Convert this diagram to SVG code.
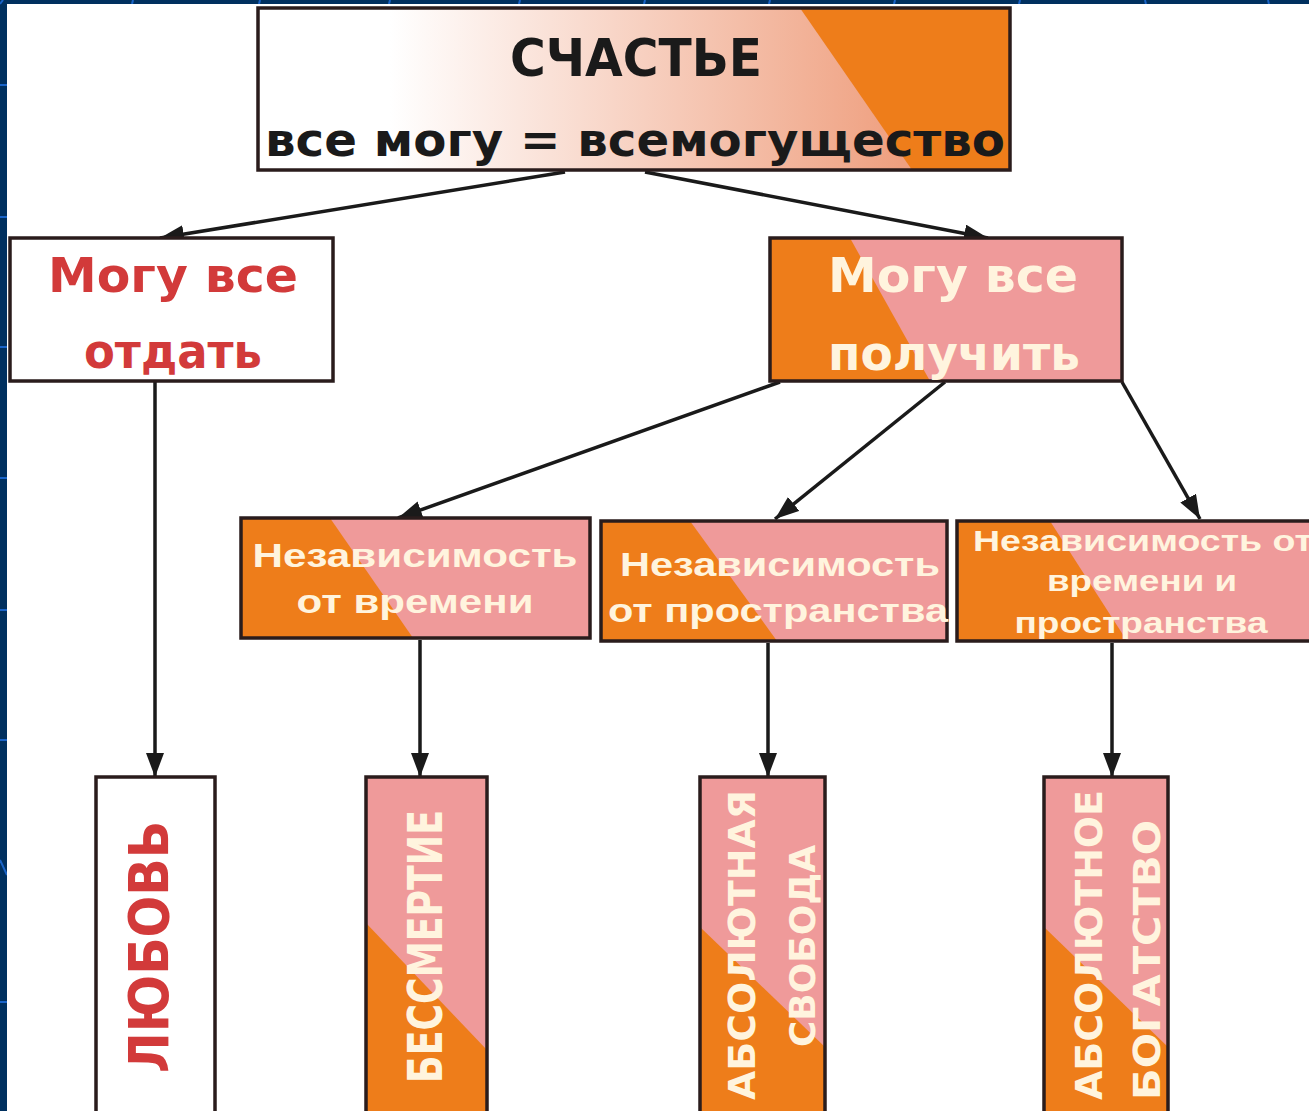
<svg xmlns="http://www.w3.org/2000/svg" width="1309" height="1111" viewBox="0 0 1309 1111">
<defs>
<style>
.box{stroke:#2a1c1c;stroke-width:3.5}
.or{fill:#ee7d1a}
.pk{fill:#ef9a9a}
.conn{stroke:#1a1a1a;stroke-width:3.5;fill:none}
.comic{font-family:"DejaVu Sans","Noto Sans",sans-serif;font-weight:bold}
.ar{font-family:"Liberation Sans",Arial,sans-serif;font-weight:bold;fill:#fff4de}
.vert{font-family:"DejaVu Sans","Liberation Sans",sans-serif;font-weight:bold}
.grid{stroke:#1a64c8;stroke-width:2}
</style>
<linearGradient id="topg" gradientUnits="userSpaceOnUse" x1="390" y1="0" x2="900" y2="0">
<stop offset="0" stop-color="#ffffff"/>
<stop offset="1" stop-color="#efa080"/>
</linearGradient>
<marker id="ah" viewBox="0 0 24 18" refX="24" refY="9" markerWidth="24" markerHeight="18" markerUnits="userSpaceOnUse" orient="auto">
<path d="M0,0 L24,9 L0,18 Z" fill="#1a1a1a"/>
</marker>
</defs>
<rect x="0" y="0" width="1309" height="1111" fill="#00305f"/>
<g class="grid">
<line x1="3" y1="0" x2="0" y2="4"/><line x1="133" y1="0" x2="132" y2="4"/><line x1="260" y1="0" x2="259" y2="4"/><line x1="390" y1="0" x2="389" y2="4"/><line x1="520" y1="0" x2="519" y2="4"/><line x1="645" y1="0" x2="644" y2="4"/><line x1="770" y1="0" x2="769" y2="4"/><line x1="895" y1="0" x2="894" y2="4"/><line x1="1020" y1="0" x2="1019" y2="4"/><line x1="1145" y1="0" x2="1146" y2="4"/><line x1="1268" y1="0" x2="1269" y2="4"/>
<line x1="0" y1="85" x2="7" y2="85"/><line x1="0" y1="217" x2="7" y2="217"/><line x1="0" y1="347" x2="7" y2="347"/><line x1="0" y1="478" x2="7" y2="478"/><line x1="0" y1="610" x2="7" y2="610"/><line x1="0" y1="740" x2="7" y2="740"/><line x1="0" y1="860" x2="7" y2="875"/><line x1="0" y1="1002" x2="7" y2="1002"/>
</g>
<rect x="7" y="4" width="1302" height="1107" fill="#ffffff"/>

<g id="connectors">
<line class="conn" x1="565" y1="172" x2="160" y2="238" marker-end="url(#ah)"/>
<line class="conn" x1="645" y1="172" x2="988" y2="238" marker-end="url(#ah)"/>
<line class="conn" x1="780" y1="382" x2="398" y2="518" marker-end="url(#ah)"/>
<line class="conn" x1="945" y1="382" x2="775" y2="519" marker-end="url(#ah)"/>
<line class="conn" x1="1122" y1="382" x2="1200" y2="519" marker-end="url(#ah)"/>
<line class="conn" x1="155" y1="381" x2="155" y2="777" marker-end="url(#ah)"/>
<line class="conn" x1="420" y1="640" x2="420" y2="777" marker-end="url(#ah)"/>
<line class="conn" x1="768" y1="643" x2="768" y2="777" marker-end="url(#ah)"/>
<line class="conn" x1="1112" y1="643" x2="1112" y2="777" marker-end="url(#ah)"/>
</g>

<g id="happiness">
<rect x="258" y="8" width="752" height="162" fill="url(#topg)"/>
<polygon class="or" points="800,8 1010,8 1010,170 912,170"/>
<rect class="box" x="258" y="8" width="752" height="162" fill="none"/>
<text class="comic" x="636" y="76" font-size="52" text-anchor="middle" fill="#1a1a1a" textLength="252" lengthAdjust="spacingAndGlyphs">СЧАСТЬЕ</text>
<text class="comic" x="265" y="156" font-size="46" fill="#1a1a1a" textLength="740" lengthAdjust="spacingAndGlyphs">все могу = всемогущество</text>
</g>

<g id="give">
<rect class="box" x="10" y="238" width="323" height="143" fill="#ffffff"/>
<text class="comic" x="173" y="292" font-size="48" text-anchor="middle" fill="#d23a3a" textLength="250" lengthAdjust="spacingAndGlyphs">Могу все</text>
<text class="comic" x="173" y="368" font-size="48" text-anchor="middle" fill="#d23a3a" textLength="178" lengthAdjust="spacingAndGlyphs">отдать</text>
</g>

<g id="receive">
<rect class="pk" x="770" y="238" width="352" height="143"/>
<polygon class="or" points="770,238 850,238 930,381 770,381"/>
<rect class="box" x="770" y="238" width="352" height="143" fill="none"/>
<text class="comic" x="953" y="292" font-size="48" text-anchor="middle" fill="#fff4de" textLength="250" lengthAdjust="spacingAndGlyphs">Могу все</text>
<text class="comic" x="954" y="370" font-size="48" text-anchor="middle" fill="#fff4de" textLength="252" lengthAdjust="spacingAndGlyphs">получить</text>
</g>

<g id="time">
<rect class="pk" x="241" y="518" width="349" height="120"/>
<polygon class="or" points="241,518 330,518 413,638 241,638"/>
<rect class="box" x="241" y="518" width="349" height="120" fill="none"/>
<text class="ar" x="415" y="567" font-size="34" text-anchor="middle" textLength="325" lengthAdjust="spacingAndGlyphs">Независимость</text>
<text class="ar" x="415" y="613" font-size="34" text-anchor="middle" textLength="237" lengthAdjust="spacingAndGlyphs">от времени</text>
</g>

<g id="space">
<rect class="pk" x="601" y="521" width="346" height="120"/>
<polygon class="or" points="601,521 690,521 777,641 601,641"/>
<rect class="box" x="601" y="521" width="346" height="120" fill="none"/>
<text class="ar" x="780" y="576" font-size="34" text-anchor="middle" textLength="320" lengthAdjust="spacingAndGlyphs">Независимость</text>
<text class="ar" x="778" y="622" font-size="34" text-anchor="middle" textLength="340" lengthAdjust="spacingAndGlyphs">от пространства</text>
</g>

<g id="timespace">
<rect class="pk" x="957" y="521" width="360" height="120"/>
<polygon class="or" points="957,521 1050,521 1127,641 957,641"/>
<rect class="box" x="957" y="521" width="360" height="120" fill="none"/>
<text class="ar" x="973" y="551" font-size="30" textLength="340" lengthAdjust="spacingAndGlyphs">Независимость от</text>
<text class="ar" x="1142" y="591" font-size="30" text-anchor="middle" textLength="190" lengthAdjust="spacingAndGlyphs">времени и</text>
<text class="ar" x="1141" y="633" font-size="30" text-anchor="middle" textLength="253" lengthAdjust="spacingAndGlyphs">пространства</text>
</g>

<g id="love">
<rect class="box" x="96" y="777" width="119" height="340" fill="#ffffff"/>
<text class="vert" transform="translate(168,1073) rotate(-90)" font-size="56" fill="#d23a3a" textLength="252" lengthAdjust="spacingAndGlyphs">ЛЮБОВЬ</text>
</g>

<g id="immortality">
<rect class="pk" x="366" y="777" width="121" height="340"/>
<polygon class="or" points="366,923 487,1050 487,1117 366,1117"/>
<rect class="box" x="366" y="777" width="121" height="340" fill="none"/>
<text class="vert" transform="translate(442,1083) rotate(-90)" font-size="48" fill="#fff4de" textLength="273" lengthAdjust="spacingAndGlyphs">БЕССМЕРТИЕ</text>
</g>

<g id="freedom">
<rect class="pk" x="700" y="777" width="125" height="340"/>
<polygon class="or" points="700,927 825,1047 825,1117 700,1117"/>
<rect class="box" x="700" y="777" width="125" height="340" fill="none"/>
<text class="vert" transform="translate(755,1100) rotate(-90)" font-size="38" fill="#fff4de" textLength="310" lengthAdjust="spacingAndGlyphs">АБСОЛЮТНАЯ</text>
<text class="vert" transform="translate(815,1047) rotate(-90)" font-size="36" fill="#fff4de" textLength="202" lengthAdjust="spacingAndGlyphs">СВОБОДА</text>
</g>

<g id="wealth">
<rect class="pk" x="1044" y="777" width="124" height="340"/>
<polygon class="or" points="1044,927 1168,1047 1168,1117 1044,1117"/>
<rect class="box" x="1044" y="777" width="124" height="340" fill="none"/>
<text class="vert" transform="translate(1102,1100) rotate(-90)" font-size="38" fill="#fff4de" textLength="310" lengthAdjust="spacingAndGlyphs">АБСОЛЮТНОЕ</text>
<text class="vert" transform="translate(1160,1100) rotate(-90)" font-size="38" fill="#fff4de" textLength="280" lengthAdjust="spacingAndGlyphs">БОГАТСТВО</text>
</g>
</svg>
